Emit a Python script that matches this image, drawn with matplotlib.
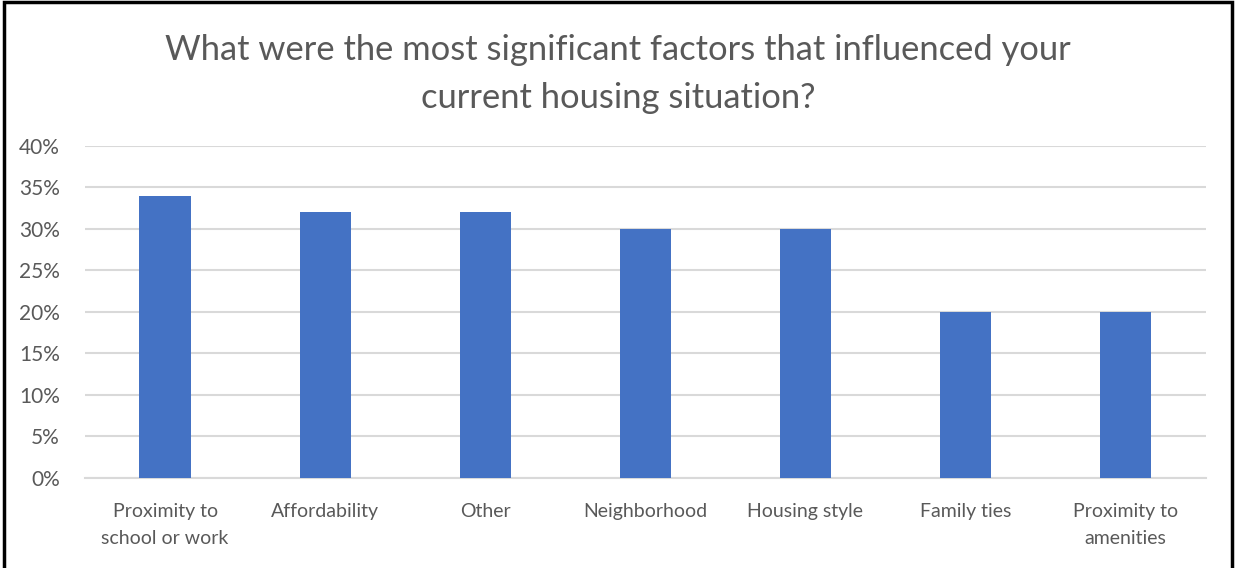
import matplotlib
matplotlib.use("Agg")
import matplotlib.pyplot as plt
from matplotlib.patches import Rectangle
from matplotlib.ticker import PercentFormatter
import numpy as np

# survey answers, share of respondents
factors = ["Proximity to\nschool or work", "Affordability", "Other", "Neighborhood",
           "Housing style", "Family ties", "Proximity to\namenities"]
shares = [0.34, 0.32, 0.32, 0.30, 0.30, 0.20, 0.20]
y_ticks = [0.0, 0.05, 0.10, 0.15, 0.20, 0.25, 0.30, 0.35, 0.40]

title = "What were the most significant factors that influenced your\ncurrent housing situation?"

plt.rcParams['font.family'] = ['Lato', 'DejaVu Sans']
text_grey = '#595959'

fig = plt.figure(figsize=(12.36, 5.68), dpi=100)
ax = fig.add_axes([0.0688, 0.159, 0.9067, 0.584])

x = np.arange(len(factors))
ax.bar(x, shares, width=0.32, color='#4472C4', zorder=3)

ax.set_xlim(-0.5, len(factors) - 0.5)
ax.set_ylim(0, 0.40)
ax.set_yticks(y_ticks)
ax.yaxis.set_major_formatter(PercentFormatter(1.0, decimals=0))
ax.set_xticks(x)
ax.set_xticklabels(factors, fontsize=14, color=text_grey, linespacing=1.75)
ax.tick_params(axis='y', labelsize=15, labelcolor=text_grey, length=0, pad=18)
ax.tick_params(axis='x', length=0, pad=18)
ax.grid(axis='y', color='#d9d9d9', linewidth=1.5, zorder=0)
for side in ['top', 'right', 'left']:
    ax.spines[side].set_visible(False)
ax.spines['bottom'].set_color('#d9d9d9')
ax.spines['bottom'].set_linewidth(1.5)

fig.text(0.5, 0.941, title, ha='center', va='top', fontsize=24.8, color=text_grey,
         linespacing=1.65)

# outer frame of the chart area
fig.patches.append(Rectangle((0.003, -0.01), 0.994, 1.007, transform=fig.transFigure,
                             fill=False, edgecolor='black', linewidth=2.5))

fig.savefig("out.png", dpi=100)
